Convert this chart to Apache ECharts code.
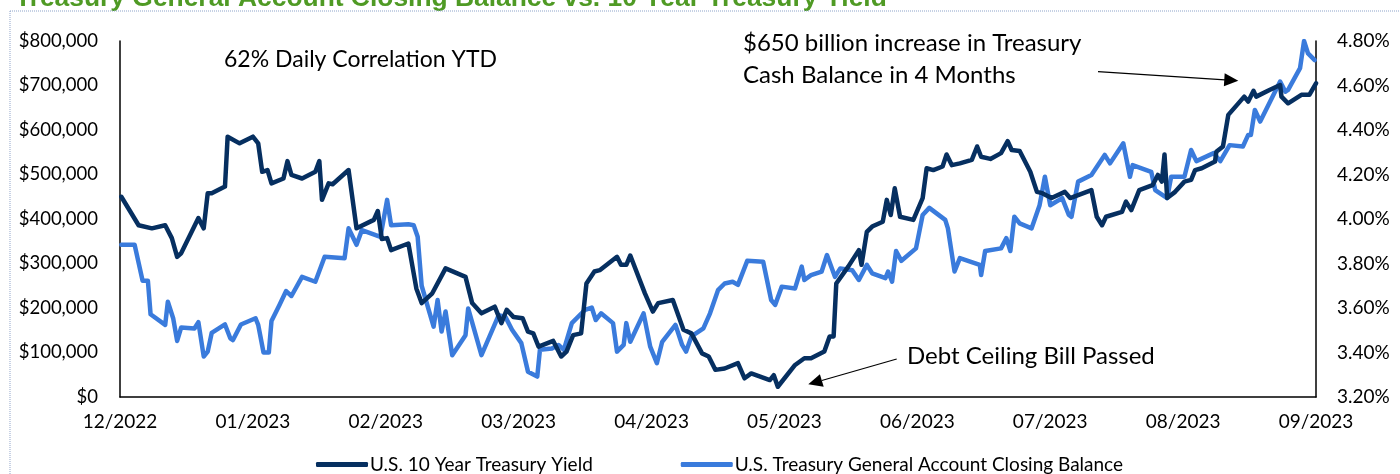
<!DOCTYPE html>
<html>
<head>
<meta charset="utf-8">
<script src="https://cdn.jsdelivr.net/npm/echarts@6/dist/echarts.min.js"></script>
<style>
  html, body { margin: 0; padding: 0; background: #fff; }
  #chart { width: 1400px; height: 474px; }
</style>
</head>
<body>
<div id="chart"></div>
<script>
// x axis month labels, one per unit of the x value
const monthLabels = ['12/2022', '01/2023', '02/2023', '03/2023', '04/2023', '05/2023', '06/2023', '07/2023', '08/2023', '09/2023'];

// dark line, left axis ($ millions) - [month position, value]
const darkLine = [
  [0.01, 450000], [0.14, 386000], [0.24, 379000], [0.34, 386000], [0.39, 357000], [0.43, 315000], [0.46, 323000],
  [0.59, 402000], [0.63, 379000], [0.66, 458000], [0.69, 458000], [0.79, 473000], [0.81, 585000], [0.90, 570000],
  [1.00, 585000], [1.04, 570000], [1.07, 506000], [1.11, 510000], [1.14, 480000], [1.23, 491000], [1.26, 530000],
  [1.29, 499000], [1.37, 491000], [1.47, 506000], [1.50, 530000], [1.52, 443000], [1.57, 480000], [1.60, 478000],
  [1.72, 510000], [1.78, 379000], [1.91, 398000], [1.94, 418000], [1.97, 355000], [2.01, 357000], [2.04, 330000],
  [2.17, 345000], [2.23, 244000], [2.27, 211000], [2.35, 233000], [2.45, 289000], [2.60, 270000], [2.65, 211000],
  [2.72, 188000], [2.82, 203000], [2.87, 166000], [2.91, 196000], [2.96, 180000], [3.03, 177000], [3.07, 147000],
  [3.11, 143000], [3.15, 113000], [3.26, 126000], [3.32, 91000], [3.36, 102000], [3.41, 139000], [3.47, 143000],
  [3.51, 255000], [3.57, 282000], [3.61, 285000], [3.74, 315000], [3.77, 297000], [3.81, 297000], [3.84, 318000],
  [3.95, 233000], [4.01, 192000], [4.05, 211000], [4.16, 218000], [4.24, 151000], [4.30, 143000], [4.38, 98000],
  [4.43, 91000], [4.48, 61000], [4.55, 64000], [4.65, 76000], [4.70, 42000], [4.75, 53000], [4.89, 38000],
  [4.92, 49000], [4.95, 23000], [5.08, 72000], [5.15, 87000], [5.20, 87000], [5.30, 102000], [5.34, 136000],
  [5.37, 136000], [5.39, 255000], [5.48, 293000], [5.56, 330000], [5.58, 297000], [5.62, 371000], [5.66, 383000],
  [5.74, 394000], [5.77, 443000], [5.80, 409000], [5.83, 469000], [5.87, 405000], [5.97, 398000], [6.04, 447000],
  [6.07, 514000], [6.12, 510000], [6.19, 518000], [6.22, 545000], [6.26, 521000], [6.32, 525000], [6.41, 533000],
  [6.45, 563000], [6.48, 540000], [6.55, 535000], [6.63, 548000], [6.68, 575000], [6.71, 555000], [6.77, 553000],
  [6.85, 506000], [6.90, 461000], [6.94, 458000], [7.01, 447000], [7.11, 461000], [7.15, 447000], [7.31, 465000],
  [7.35, 405000], [7.39, 386000], [7.42, 405000], [7.54, 416000], [7.57, 439000], [7.61, 420000], [7.67, 465000],
  [7.77, 476000], [7.81, 499000], [7.84, 484000], [7.86, 545000], [7.88, 447000], [7.94, 461000], [8.01, 484000],
  [8.06, 488000], [8.09, 510000], [8.14, 514000], [8.24, 529000], [8.25, 551000], [8.30, 563000], [8.34, 634000],
  [8.46, 675000], [8.49, 664000], [8.53, 688000], [8.55, 675000], [8.65, 690000], [8.73, 701000], [8.74, 675000],
  [8.79, 660000], [8.89, 679000], [8.95, 679000], [9.00, 705000]
];

// light line, right axis (%) - [month position, value]
const lightLine = [
  [0.01, 3.884], [0.11, 3.884], [0.17, 3.722], [0.21, 3.722], [0.23, 3.572], [0.34, 3.524], [0.36, 3.628],
  [0.40, 3.554], [0.43, 3.452], [0.46, 3.512], [0.56, 3.508], [0.59, 3.536], [0.63, 3.382], [0.66, 3.404],
  [0.69, 3.488], [0.79, 3.526], [0.83, 3.464], [0.85, 3.456], [0.91, 3.526], [1.02, 3.554], [1.04, 3.524],
  [1.08, 3.400], [1.12, 3.400], [1.14, 3.542], [1.20, 3.614], [1.25, 3.676], [1.29, 3.654], [1.37, 3.740],
  [1.47, 3.718], [1.54, 3.830], [1.69, 3.824], [1.72, 3.958], [1.78, 3.884], [1.82, 3.950], [1.96, 3.920],
  [2.01, 4.086], [2.04, 3.972], [2.17, 3.976], [2.21, 3.972], [2.24, 3.920], [2.27, 3.700], [2.36, 3.516],
  [2.39, 3.636], [2.42, 3.494], [2.45, 3.584], [2.50, 3.388], [2.60, 3.478], [2.62, 3.598], [2.72, 3.388],
  [2.85, 3.568], [2.90, 3.560], [2.95, 3.502], [3.02, 3.442], [3.07, 3.314], [3.14, 3.292], [3.16, 3.412],
  [3.25, 3.418], [3.30, 3.434], [3.34, 3.412], [3.40, 3.532], [3.50, 3.592], [3.55, 3.602], [3.58, 3.546],
  [3.62, 3.576], [3.71, 3.532], [3.74, 3.404], [3.79, 3.434], [3.81, 3.532], [3.84, 3.448], [3.94, 3.576],
  [3.99, 3.426], [4.04, 3.352], [4.08, 3.448], [4.18, 3.524], [4.23, 3.434], [4.26, 3.404], [4.30, 3.472],
  [4.39, 3.508], [4.44, 3.576], [4.50, 3.680], [4.55, 3.710], [4.61, 3.718], [4.65, 3.704], [4.72, 3.812],
  [4.84, 3.808], [4.90, 3.636], [4.93, 3.614], [4.98, 3.696], [5.08, 3.688], [5.13, 3.786], [5.15, 3.726],
  [5.20, 3.748], [5.28, 3.764], [5.32, 3.838], [5.38, 3.740], [5.42, 3.778], [5.51, 3.770], [5.56, 3.726],
  [5.62, 3.794], [5.66, 3.756], [5.76, 3.734], [5.78, 3.764], [5.81, 3.718], [5.84, 3.856], [5.88, 3.812],
  [5.99, 3.868], [6.04, 4.018], [6.09, 4.050], [6.21, 3.996], [6.23, 3.958], [6.28, 3.764], [6.32, 3.824],
  [6.47, 3.794], [6.48, 3.748], [6.51, 3.856], [6.63, 3.868], [6.67, 3.914], [6.70, 3.856], [6.73, 4.010],
  [6.77, 3.980], [6.86, 3.958], [6.92, 4.062], [6.96, 4.190], [7.00, 4.062], [7.09, 4.094], [7.14, 4.018],
  [7.16, 4.010], [7.21, 4.168], [7.31, 4.198], [7.41, 4.288], [7.45, 4.250], [7.55, 4.340], [7.60, 4.190],
  [7.62, 4.242], [7.76, 4.212], [7.79, 4.130], [7.88, 4.094], [7.91, 4.190], [8.01, 4.190], [8.06, 4.310],
  [8.10, 4.260], [8.23, 4.296], [8.28, 4.260], [8.35, 4.332], [8.45, 4.326], [8.49, 4.378], [8.51, 4.378],
  [8.54, 4.490], [8.58, 4.438], [8.73, 4.618], [8.77, 4.572], [8.79, 4.580], [8.88, 4.678], [8.91, 4.800],
  [8.94, 4.744], [8.99, 4.714]
];

const chart = echarts.init(document.getElementById('chart'));
const font = 'Lato, "Open Sans", sans-serif';

chart.setOption({
  animation: false,
  grid: { left: 120, right: 84, top: 41, bottom: 77 },
  legend: {
    left: 311,
    top: 450,
    itemGap: 88,
    itemWidth: 52,
    itemHeight: 5,
    icon: 'roundRect',
    textStyle: { fontFamily: font, fontSize: 19, color: '#000', padding: [0, 0, 0, -3] },
    data: ['U.S. 10 Year Treasury Yield', 'U.S. Treasury General Account Closing Balance']
  },
  xAxis: {
    type: 'value',
    min: 0,
    max: 9,
    interval: 1,
    splitLine: { show: false },
    axisTick: { show: false },
    axisLine: { show: true, lineStyle: { color: '#000', width: 1.5 } },
    axisLabel: {
      margin: 15,
      fontFamily: font,
      fontSize: 19,
      color: '#000',
      formatter: v => monthLabels[Math.round(v)]
    }
  },
  yAxis: [
    {
      type: 'value',
      min: 0,
      max: 800000,
      interval: 100000,
      splitLine: { show: false },
      axisTick: { show: false },
      axisLine: { show: true, lineStyle: { color: '#000', width: 1.5 } },
      axisLabel: {
        margin: 22,
        fontFamily: font,
        fontSize: 18.5,
        color: '#000',
        formatter: v => '$' + v.toLocaleString('en-US')
      }
    },
    {
      type: 'value',
      min: 3.2,
      max: 4.8,
      interval: 0.2,
      position: 'right',
      splitLine: { show: false },
      axisTick: { show: false },
      axisLine: { show: true, lineStyle: { color: '#000', width: 1.5 } },
      axisLabel: {
        margin: 21,
        fontFamily: font,
        fontSize: 19,
        color: '#000',
        formatter: v => v.toFixed(2) + '%'
      }
    }
  ],
  series: [
    {
      name: 'U.S. 10 Year Treasury Yield',
      type: 'line',
      yAxisIndex: 0,
      data: darkLine,
      showSymbol: false,
      symbol: 'none',
      z: 3,
      itemStyle: { color: '#062f60' },
      lineStyle: { color: '#062f60', width: 4.5, join: 'round', cap: 'round' }
    },
    {
      name: 'U.S. Treasury General Account Closing Balance',
      type: 'line',
      yAxisIndex: 1,
      data: lightLine,
      showSymbol: false,
      symbol: 'none',
      z: 2,
      itemStyle: { color: '#3a7bdc' },
      lineStyle: { color: '#3a7bdc', width: 4.5, join: 'round', cap: 'round' }
    }
  ],
  graphic: [
    // title, clipped by the top edge
    {
      type: 'text', left: 15, top: -14,
      style: {
        text: 'Treasury General Account Closing Balance vs. 10 Year Treasury Yield',
        fill: '#4f9a24', font: 'bold 26.4px "Liberation Sans", Arial, sans-serif'
      }
    },
    // dotted frame
    { type: 'line', shape: { x1: 10, y1: 11, x2: 1400, y2: 11 }, style: { stroke: '#8ea3c9', lineWidth: 1, lineDash: [1, 1] } },
    { type: 'line', shape: { x1: 10, y1: 11, x2: 10, y2: 474 }, style: { stroke: '#8ea3c9', lineWidth: 1, lineDash: [1, 1] } },
    // annotations
    {
      type: 'text', x: 224, y: 60,
      style: { text: '62% Daily Correlation YTD', fill: '#000', font: '23px ' + font, verticalAlign: 'middle' }
    },
    {
      type: 'text', x: 743, y: 43,
      style: { text: '$650 billion increase in Treasury', fill: '#000', font: '24px ' + font, verticalAlign: 'middle' }
    },
    {
      type: 'text', x: 743, y: 75,
      style: { text: 'Cash Balance in 4 Months', fill: '#000', font: '24px ' + font, verticalAlign: 'middle' }
    },
    {
      type: 'text', x: 907, y: 356,
      style: { text: 'Debt Ceiling Bill Passed', fill: '#000', font: '24px ' + font, verticalAlign: 'middle' }
    },
    { type: 'line', shape: { x1: 1098, y1: 71.7, x2: 1225, y2: 79.8 }, style: { stroke: '#000', lineWidth: 1.2 } },
    { type: 'polygon', shape: { points: [[1238.3, 80.7], [1223.9, 86.3], [1224.7, 73.3]] }, style: { fill: '#000' } },
    { type: 'line', shape: { x1: 896.7, y1: 359, x2: 821.8, y2: 380.5 }, style: { stroke: '#000', lineWidth: 1.2 } },
    { type: 'polygon', shape: { points: [[808.3, 384.3], [823.7, 386.7], [819.9, 374.2]] }, style: { fill: '#000' } }
  ]
});
</script>
</body>
</html>
